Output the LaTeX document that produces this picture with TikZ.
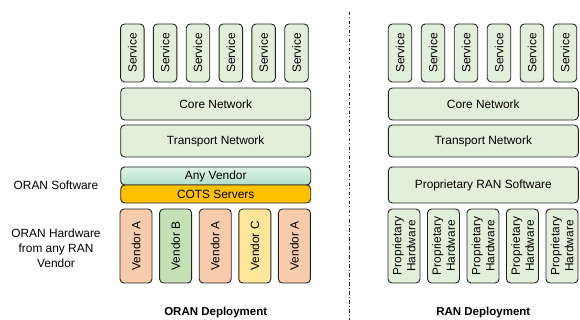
\documentclass[tikz,border=0pt]{standalone}
\usepackage{fontspec}
\setmainfont{Liberation Sans}
\usetikzlibrary{positioning}
\definecolor{boxgreen}{RGB}{226,239,218}
\definecolor{anytop}{RGB}{222,243,230}
\definecolor{anybot}{RGB}{178,224,200}
\definecolor{cots}{RGB}{255,192,0}
\definecolor{venda}{RGB}{247,203,172}
\definecolor{vendb}{RGB}{197,224,180}
\definecolor{vendc}{RGB}{255,229,153}
\definecolor{edge}{RGB}{34,34,34}
\tikzset{
  blk/.style={draw=edge, line width=0.9pt, rounded corners=4pt, inner sep=0pt,
    font=\fontsize{11.9}{14}\selectfont, align=center},
  svc/.style={blk, fill=boxgreen, rotate=90, minimum width=58pt, minimum height=23.5pt},
  layer/.style={blk, fill=boxgreen, minimum width=190pt},
  vend/.style={blk, rotate=90, minimum width=74pt, minimum height=32pt},
  side/.style={font=\fontsize{11.9}{15}\selectfont, align=center},
  caption/.style={font=\fontsize{11.5}{13}\selectfont\bfseries}
}

\begin{document}
\begin{tikzpicture}[x=1pt, y=-1pt]
  \useasboundingbox (0,0) rectangle (580,320);
  \foreach \i in {0,...,5}
    \node [svc] (lsvc\i) at ({132.3+32.84*\i},53) {Service};
  \node [layer, minimum height=32pt] (lcore) at (215.7,104)
    {Core Network};
  \node [layer, minimum height=32pt] (ltrans) at (215.7,141)
    {Transport Network};
  \node [layer, minimum height=18pt, top color=anytop, bottom color=anybot] (anyv)
    at (215.7,176) {Any Vendor};
  \node [layer, minimum height=18pt, fill=cots] (cots) at (215.7,194)
    {COTS Servers};
  \node [vend, fill=venda] (va1) at (136,246) {Vendor A};
  \node [vend, fill=vendb] (vb) at (175.6,246) {Vendor B};
  \node [vend, fill=venda] (va2) at (215.2,246) {Vendor A};
  \node [vend, fill=vendc] (vc) at (254.8,246) {Vendor C};
  \node [vend, fill=venda] (va3) at (294.4,246) {Vendor A};
  \node [side] (oransw) at (56,185) {ORAN Software};
  \node [side] (oranhw) at (56,248) {ORAN Hardware\\from any RAN\\Vendor};
  \node [caption] (orancap) at (215.7,313) {ORAN Deployment};

  \coordinate (divtop) at (349.5,12);
  \coordinate (divbot) at (349.5,320);
  \draw [edge, line width=0.9pt, dash pattern=on 3.5pt off 2pt on 1pt off 2.5pt]
    (divtop) -- (divbot);

  \foreach \i in {0,...,5}
    \node [svc] (rsvc\i) at ({400+33*\i},53) {Service};
  \node [layer, minimum height=32pt] (rcore) at (483.3,104)
    {Core Network};
  \node [layer, minimum height=32pt] (rtrans) at (483.3,141)
    {Transport Network};
  \node [layer, minimum height=36pt] (ransw) at (483.3,185)
    {Proprietary RAN Software};
  \foreach \i in {0,...,4}
    \node [vend, fill=boxgreen] (rhw\i) at ({404+39.5*\i},246)
      {Proprietary\\Hardware};
  \node [caption] (rancap) at (483.3,313) {RAN Deployment};
\end{tikzpicture}
\end{document}
